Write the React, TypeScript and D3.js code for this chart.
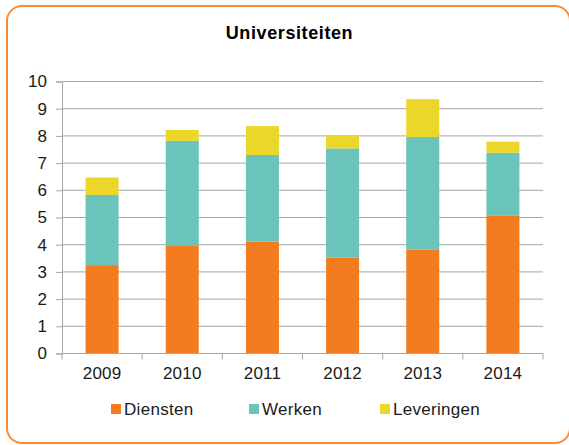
import React, { useEffect, useRef } from "react";
import * as d3 from "d3";

const years = ["2009", "2010", "2011", "2012", "2013", "2014"];
const diensten = [3.25, 3.98, 4.11, 3.52, 3.83, 5.06];
const werken = [2.58, 3.84, 3.19, 4.02, 4.13, 2.32];
const leveringen = [0.64, 0.4, 1.06, 0.46, 1.39, 0.41];
const seriesNames = ["Diensten", "Werken", "Leveringen"];
const colors = ["#F37C21", "#6AC4B9", "#EBD62A"];
const yTicks = [0, 1, 2, 3, 4, 5, 6, 7, 8, 9, 10];

const W = 569;
const H = 445;
const FONT = "Arial, 'Liberation Sans', sans-serif";

const App = () => {
  const svgRef = useRef<SVGSVGElement>(null);

  useEffect(() => {
    const svg = d3.select(svgRef.current);
    svg.selectAll("*").remove();

    const margin = { top: 81.5, right: 26, bottom: 91.5, left: 62 };

    // outer frame
    svg
      .append("rect")
      .attr("x", 7)
      .attr("y", 6)
      .attr("width", 563)
      .attr("height", 437)
      .attr("rx", 15)
      .attr("fill", "#fff")
      .attr("stroke", "#F68B3D")
      .attr("stroke-width", 2);

    svg
      .append("text")
      .attr("x", 289.5)
      .attr("y", 39)
      .attr("text-anchor", "middle")
      .attr("font-family", FONT)
      .attr("font-weight", "bold")
      .attr("font-size", 18)
      .attr("letter-spacing", 0.6)
      .attr("fill", "#000")
      .text("Universiteiten");

    const x = d3
      .scaleBand()
      .domain(years)
      .range([margin.left, W - margin.right])
      .paddingInner(0.588)
      .paddingOuter(0.294);

    const y = d3
      .scaleLinear()
      .domain([0, 10])
      .range([H - margin.bottom, margin.top]);

    // gridlines
    svg
      .append("g")
      .selectAll("line")
      .data(yTicks.slice(1))
      .join("line")
      .attr("x1", margin.left)
      .attr("x2", W - margin.right)
      .attr("y1", (d) => y(d))
      .attr("y2", (d) => y(d))
      .attr("stroke", "#A6A6A6")
      .attr("stroke-width", 1);

    // stacked bars
    const table = years.map((yr, i) => ({
      year: yr,
      Diensten: diensten[i],
      Werken: werken[i],
      Leveringen: leveringen[i],
    }));
    const stacked = d3.stack<any>().keys(seriesNames)(table);

    svg
      .append("g")
      .selectAll("g")
      .data(stacked)
      .join("g")
      .attr("fill", (_, i) => colors[i])
      .selectAll("rect")
      .data((d) => d)
      .join("rect")
      .attr("x", (d: any) => x(d.data.year)!)
      .attr("width", x.bandwidth())
      .attr("y", (d) => y(d[1]))
      .attr("height", (d) => y(d[0]) - y(d[1]));

    // y axis
    const yAxis = svg
      .append("g")
      .attr("transform", `translate(${margin.left},0)`)
      .call(d3.axisLeft(y).tickValues(yTicks).tickSize(6).tickPadding(9));
    yAxis.select(".domain").attr("stroke", "#A6A6A6");
    yAxis.selectAll(".tick line").attr("stroke", "#A6A6A6");
    yAxis
      .selectAll(".tick text")
      .attr("font-family", FONT)
      .attr("font-size", 17)
      .attr("fill", "#1a1a1a");

    // x axis, ticks at category boundaries
    const xAxis = svg
      .append("g")
      .attr("transform", `translate(0,${H - margin.bottom})`);
    xAxis
      .append("line")
      .attr("x1", margin.left)
      .attr("x2", W - margin.right)
      .attr("stroke", "#A6A6A6");
    const step = x.step();
    const bounds = d3.range(years.length + 1).map((i) => margin.left + i * step);
    xAxis
      .selectAll("line.tk")
      .data(bounds)
      .join("line")
      .attr("class", "tk")
      .attr("x1", (d) => d)
      .attr("x2", (d) => d)
      .attr("y1", 0)
      .attr("y2", 6)
      .attr("stroke", "#A6A6A6");
    xAxis
      .selectAll("text")
      .data(years)
      .join("text")
      .attr("x", (d) => x(d)! + x.bandwidth() / 2)
      .attr("y", 25.5)
      .attr("text-anchor", "middle")
      .attr("font-family", FONT)
      .attr("font-size", 17)
      .attr("letter-spacing", 0.2)
      .attr("fill", "#1a1a1a")
      .text((d) => d);

    // legend
    const legendX = [111, 249, 380];
    const legend = svg
      .append("g")
      .selectAll("g")
      .data(seriesNames)
      .join("g")
      .attr("transform", (_, i) => `translate(${legendX[i]},409)`);
    legend
      .append("rect")
      .attr("x", 0)
      .attr("y", -5)
      .attr("width", 10)
      .attr("height", 10)
      .attr("fill", (_, i) => colors[i]);
    legend
      .append("text")
      .attr("x", 13)
      .attr("y", 6)
      .attr("font-family", FONT)
      .attr("font-size", 17)
      .attr("letter-spacing", 0.3)
      .attr("fill", "#1a1a1a")
      .text((d) => d);
  }, []);

  return (
    <svg
      ref={svgRef}
      width={W}
      height={H}
      style={{ position: "absolute", left: 0, top: 0 }}
    ></svg>
  );
};

export default App;
